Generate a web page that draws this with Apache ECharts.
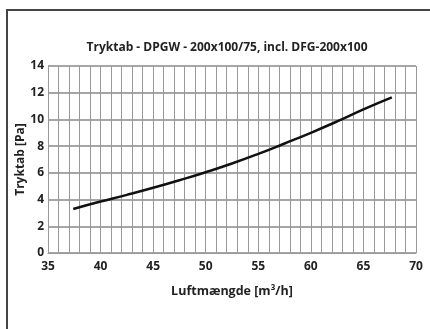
<!DOCTYPE html>
<html><head><meta charset="utf-8">
<script src="https://cdn.jsdelivr.net/npm/echarts@6/dist/echarts.min.js"></script>
<style>html,body{margin:0;padding:0;background:#fff}#c{width:430px;height:329px}</style>
</head><body><div id="c"></div>
<script>
const flow = [37.4, 40, 42.5, 45, 47.5, 50, 52.5, 55, 57.5, 60, 62.5, 65, 67.7];
const pressure = [3.3, 3.85, 4.35, 4.88, 5.45, 6.05, 6.7, 7.42, 8.2, 9.0, 9.85, 10.75, 11.65];
const xTicks = [35, 40, 45, 50, 55, 60, 65, 70];
const yTicks = [0, 2, 4, 6, 8, 10, 12, 14];
const title = 'Tryktab - DPGW - 200x100/75, incl. DFG-200x100';
const font = '"Open Sans", sans-serif';
const chart = echarts.init(document.getElementById('c'));
chart.setOption({
  animation: false,
  title: { text: title, left: 222, top: 37, textAlign: 'center',
    textStyle: { fontFamily: font, fontSize: 12, fontWeight: 'bold', color: '#222' } },
  graphic: [{ type: 'rect', shape: { x: 7, y: 10, width: 500, height: 400 },
    style: { fill: 'none', stroke: '#444', lineWidth: 2 } }],
  grid: { left: 48, right: 14, top: 66, bottom: 76 },
  xAxis: { type: 'value', min: 35, max: 70, interval: 1,
    name: 'Luftmængde [m³/h]', nameLocation: 'middle', nameGap: 32, nameMoveOverlap: false,
    nameTextStyle: { fontFamily: font, fontSize: 12.5, fontWeight: 'bold', color: '#222' },
    axisLine: { show: true, lineStyle: { color: '#999', width: 1 } },
    axisTick: { show: false },
    axisLabel: { fontFamily: font, fontSize: 12, fontWeight: 'bold', color: '#222', margin: 8,
      formatter: v => xTicks.includes(v) ? String(v) : '' },
    splitLine: { show: true, lineStyle: { color: '#999', width: 1 } } },
  yAxis: { type: 'value', min: 0, max: 14, interval: 2,
    name: 'Tryktab [Pa]', nameLocation: 'middle', nameGap: 21, nameMoveOverlap: false,
    nameTextStyle: { fontFamily: font, fontSize: 12, fontWeight: 'bold', color: '#222' },
    axisLine: { show: true, lineStyle: { color: '#999', width: 1 } },
    axisTick: { show: false },
    axisLabel: { fontFamily: font, fontSize: 12, fontWeight: 'bold', color: '#222', margin: 4,
      formatter: v => yTicks.includes(v) ? String(v) : '' },
    splitLine: { show: true, lineStyle: { color: '#888', width: 1.5 } } },
  series: [{ type: 'line', data: flow.map((x, i) => [x, pressure[i]]), smooth: true,
    showSymbol: false, lineStyle: { color: '#111', width: 2.5 } }]
});
</script></body></html>
